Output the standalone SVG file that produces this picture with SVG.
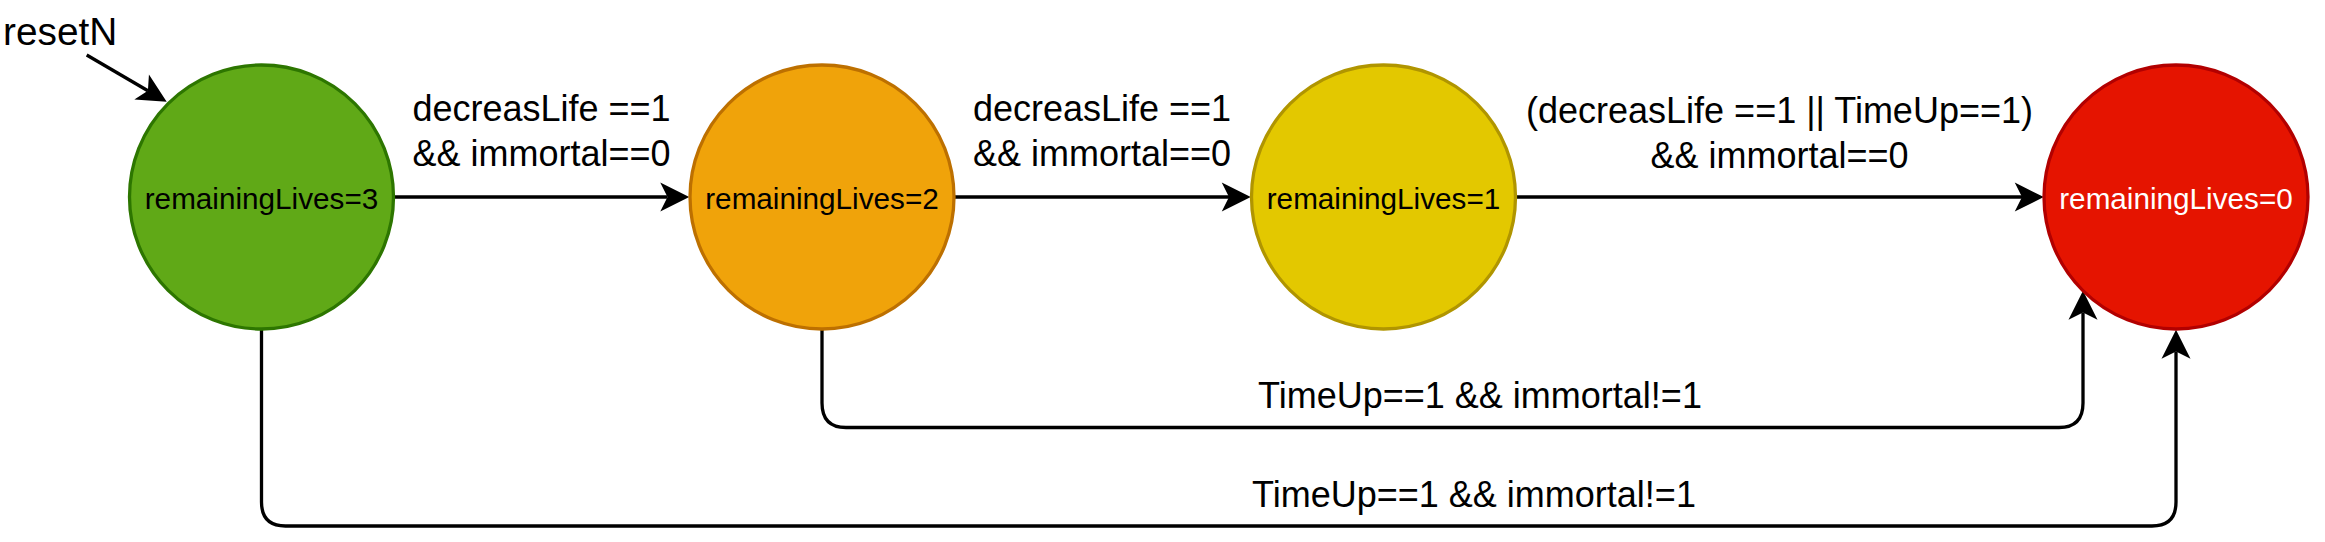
<svg xmlns="http://www.w3.org/2000/svg" width="2325" height="542" viewBox="0 0 2325 542">
<style>
.node-label{font-family:"Liberation Sans",Arial,Helvetica,sans-serif;font-size:29.7px;text-anchor:middle;}
.edge-label{font-family:"Liberation Sans",Arial,Helvetica,sans-serif;font-size:36px;text-anchor:middle;fill:#000;}
.edge{fill:none;stroke:#000;stroke-width:3.3;marker-end:url(#arrow);}
.state{stroke-width:3.3;}
</style>
<defs>
<marker id="arrow" markerUnits="userSpaceOnUse" viewBox="-8 -15 30 30" markerWidth="30" markerHeight="30" refX="0" refY="0" orient="auto" overflow="visible">
<path d="M21.75,0 L-7.25,-14.5 L0,0 L-7.25,14.5 Z" fill="#000"/>
</marker>
</defs>
<rect width="2325" height="542" fill="#fff"/>
<g id="connectors">
<path class="edge" d="M86.7,55 L147.9,90.7"/>
<path class="edge" d="M393.6,197 L667.5,197"/>
<path class="edge" d="M954,197 L1229,197"/>
<path class="edge" d="M1515.5,197 L2022,197"/>
<path class="edge" d="M822,329 L822,403 Q822,427.5 846,427.5 L2059,427.5 Q2083,427.5 2083,403 L2083,312.5"/>
<path class="edge" d="M261.5,329 L261.5,502 Q261.5,526 285.5,526 L2152,526 Q2176,526 2176,502 L2176,351.5"/>
</g>
<g id="edge-labels">
<text class="edge-label" x="541.5" y="121">decreasLife ==1</text>
<text class="edge-label" x="541.5" y="166">&amp;&amp; immortal==0</text>
<text class="edge-label" x="1102" y="121">decreasLife ==1</text>
<text class="edge-label" x="1102" y="166">&amp;&amp; immortal==0</text>
<text class="edge-label" x="1779.5" y="123">(decreasLife ==1 || TimeUp==1)</text>
<text class="edge-label" x="1779.5" y="168">&amp;&amp; immortal==0</text>
<text class="edge-label" x="1480" y="408">TimeUp==1 &amp;&amp; immortal!=1</text>
<text class="edge-label" x="1474" y="507">TimeUp==1 &amp;&amp; immortal!=1</text>
</g>
<g id="resetN">
<text x="3" y="45" font-family="Liberation Sans, Arial, Helvetica, sans-serif" font-size="38.8" fill="#000">resetN</text>
</g>
<g id="state3">
<circle class="state" cx="261.5" cy="197" r="132" fill="#60A917" stroke="#2D7600"/>
<text class="node-label" x="261.5" y="209" fill="#000">remainingLives=3</text>
</g>
<g id="state2">
<circle class="state" cx="822" cy="197" r="132" fill="#F0A30A" stroke="#BD7000"/>
<text class="node-label" x="822" y="209" fill="#000">remainingLives=2</text>
</g>
<g id="state1">
<circle class="state" cx="1383.5" cy="197" r="132" fill="#E3C800" stroke="#B09500"/>
<text class="node-label" x="1383.5" y="209" fill="#000">remainingLives=1</text>
</g>
<g id="state0">
<circle class="state" cx="2176" cy="197" r="132" fill="#E51400" stroke="#B20000"/>
<text class="node-label" x="2176" y="209" fill="#fff">remainingLives=0</text>
</g>
</svg>
